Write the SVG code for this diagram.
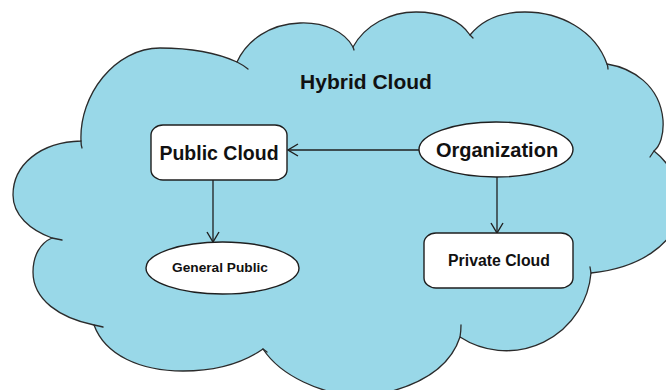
<svg xmlns="http://www.w3.org/2000/svg" width="666" height="390" viewBox="0 0 666 390">
  <style>
    .cloud { fill: #99d8e8; stroke: #2b2b2b; stroke-width: 1.3; stroke-linejoin: round; }
    .tick { fill: none; stroke: #2b2b2b; stroke-width: 1.3; stroke-linecap: round; }
    .node { fill: #ffffff; stroke: #1f1f1f; stroke-width: 1.4; }
    .edge { fill: none; stroke: #1f1f1f; stroke-width: 1.3; }
    .label { font-family: "Liberation Sans", Arial, sans-serif; font-weight: bold; fill: #111111; text-anchor: middle; }
  </style>
  <defs>
    <marker id="openArrow" viewBox="0 0 12 14" refX="11" refY="7" markerWidth="12" markerHeight="14" markerUnits="userSpaceOnUse" orient="auto">
      <path d="M1,1 L11,7 L1,13" fill="none" stroke="#1f1f1f" stroke-width="1.4"/>
    </marker>
  </defs>

  <rect width="666" height="390" fill="#ffffff"/>

  <!-- Hybrid cloud background -->
  <g id="hybrid-cloud">
    <path class="cloud" d="
      M81,141
      C79,95 115,48 160,48
      C190,48 215,52 237,62
      C247,40 270,24 300,23
      C325,22 345,32 353,47
      C365,25 390,12 416,12
      C440,12 460,20 470,35
      C482,20 500,12 525,12
      C560,12 595,30 607,64
      C632,68 660,85 663,120
      C664,135 660,146 654,151
      C672,165 685,190 680,215
      C672,245 640,268 591,273
      A85,85 0 0 1 460,337
      C450,368 420,388 365,397
      C320,395 280,375 263,349
      C240,365 210,371 183,371
      C140,371 105,355 94,325
      C60,318 33,300 33,272
      C33,256 40,243 52,238
      C30,230 13,215 13,195
      C13,165 40,142 81,141 Z"/>
    <!-- short overshoots where the lobes meet -->
    <path class="tick" d="M81,141 Q81,145 82,148"/>
    <path class="tick" d="M237,62 Q243,65 248,69"/>
    <path class="tick" d="M353,47 L354,50"/>
    <path class="tick" d="M470,35 L473,38"/>
    <path class="tick" d="M607,64 Q608,66 608,69"/>
    <path class="tick" d="M654,151 L650,157"/>
    <path class="tick" d="M591,273 L590,267"/>
    <path class="tick" d="M460,337 Q461,331 461,325"/>
    <path class="tick" d="M263,349 L267,352"/>
    <path class="tick" d="M94,325 Q99,326 103,327"/>
    <path class="tick" d="M52,238 Q57,239 62,240"/>
    <text class="label" x="366" y="89" font-size="21">Hybrid Cloud</text>
  </g>

  <!-- connectors -->
  <g id="connectors">
    <line class="edge" x1="419" y1="150" x2="288" y2="150" marker-end="url(#openArrow)"/>
    <line class="edge" x1="213" y1="180" x2="213" y2="242" marker-end="url(#openArrow)"/>
    <line class="edge" x1="497" y1="177" x2="497" y2="233" marker-end="url(#openArrow)"/>
  </g>

  <!-- nodes -->
  <g id="public-cloud">
    <rect class="node" x="151" y="125" width="136" height="55" rx="12" ry="10"/>
    <text class="label" x="219" y="160" font-size="19.5">Public Cloud</text>
  </g>

  <g id="organization">
    <ellipse class="node" cx="496" cy="149.5" rx="77" ry="27.5"/>
    <text class="label" x="497" y="157" font-size="20">Organization</text>
  </g>

  <g id="general-public">
    <ellipse class="node" cx="222.5" cy="268" rx="76.5" ry="26"/>
    <text class="label" x="220" y="272" font-size="13.7">General Public</text>
  </g>

  <g id="private-cloud">
    <rect class="node" x="424" y="233" width="149" height="55" rx="12" ry="10"/>
    <text class="label" x="499" y="266" font-size="15.8">Private Cloud</text>
  </g>
</svg>
